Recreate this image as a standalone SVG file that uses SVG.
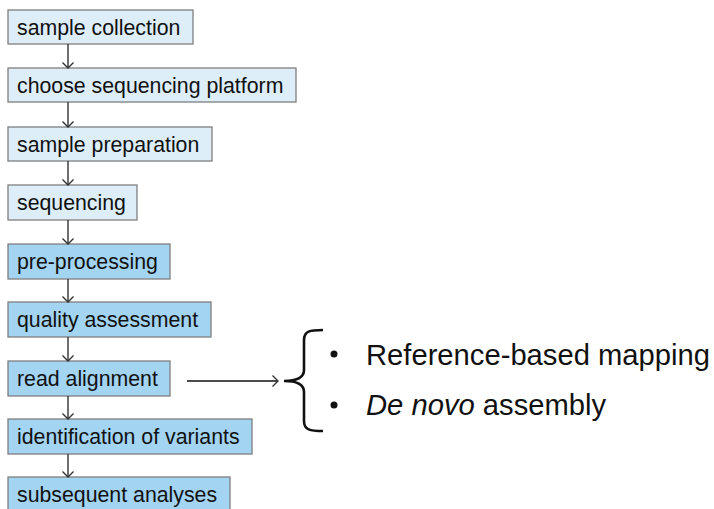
<svg xmlns="http://www.w3.org/2000/svg" width="714" height="509" viewBox="0 0 714 509">
<style>
.box rect{stroke:#7f7f7f;stroke-width:1.3}
.light rect{fill:#ddeef9}
.dark rect{fill:#a3d4f1}
.box text{font-family:"Liberation Sans",Arial,sans-serif;font-size:21.3px;fill:#111}
.conn line{stroke:#333;stroke-width:1.4;marker-end:url(#ah)}
.side{font-family:"Liberation Sans",Arial,sans-serif;font-size:29.2px;fill:#111}
</style>
<defs>
<marker id="ah" markerUnits="userSpaceOnUse" markerWidth="12" markerHeight="12" refX="6" refY="6" orient="auto" viewBox="0 0 12 12">
<path d="M0.5,0.5 L6,6 L0.5,11.5" fill="none" stroke="#333" stroke-width="1.4"/>
</marker>
</defs>
<rect width="714" height="509" fill="#fff"/>
<g id="n1" class="box light"><rect x="8" y="10" width="185" height="34"/><text x="17" y="35">sample collection</text></g>
<g id="n2" class="box light"><rect x="8" y="68" width="288" height="34"/><text x="17" y="93">choose sequencing platform</text></g>
<g id="n3" class="box light"><rect x="8" y="127" width="204" height="34"/><text x="17" y="152">sample preparation</text></g>
<g id="n4" class="box light"><rect x="8" y="185" width="129" height="35"/><text x="17" y="210">sequencing</text></g>
<g id="n5" class="box dark"><rect x="8" y="244" width="162" height="35"/><text x="17" y="269">pre-processing</text></g>
<g id="n6" class="box dark"><rect x="8" y="302" width="203" height="35"/><text x="17" y="327">quality assessment</text></g>
<g id="n7" class="box dark"><rect x="8" y="361" width="162" height="35"/><text x="17" y="386">read alignment</text></g>
<g id="n8" class="box dark"><rect x="8" y="419" width="244" height="35"/><text x="17" y="444">identification of variants</text></g>
<g id="n9" class="box dark"><rect x="8" y="477" width="222" height="35"/><text x="17" y="502">subsequent analyses</text></g>
<g id="connectors" class="conn">
<line x1="68" y1="44" x2="68" y2="68"/>
<line x1="68" y1="102" x2="68" y2="127"/>
<line x1="68" y1="161" x2="68" y2="185"/>
<line x1="68" y1="220" x2="68" y2="244"/>
<line x1="68" y1="279" x2="68" y2="302"/>
<line x1="68" y1="337" x2="68" y2="361"/>
<line x1="68" y1="396" x2="68" y2="419"/>
<line x1="68" y1="454" x2="68" y2="477"/>
<line x1="187" y1="381" x2="278" y2="381" style="stroke:#111"/>
</g>
<g id="brace">
<path d="M323,330 C310,330 304,331 304,340 L304,370 C304,378 296,381 284,381 C296,381 304,384 304,392 L304,421 C304,430 310,431 323,431" fill="none" stroke="#111" stroke-width="2.6"/>
</g>
<g id="list">
<circle cx="334" cy="354" r="3.5" fill="#111"/>
<circle cx="334" cy="405" r="3.5" fill="#111"/>
<text class="side" x="366" y="365">Reference-based mapping</text>
<text class="side" x="366" y="415"><tspan font-style="italic">De novo</tspan> assembly</text>
</g>
</svg>
